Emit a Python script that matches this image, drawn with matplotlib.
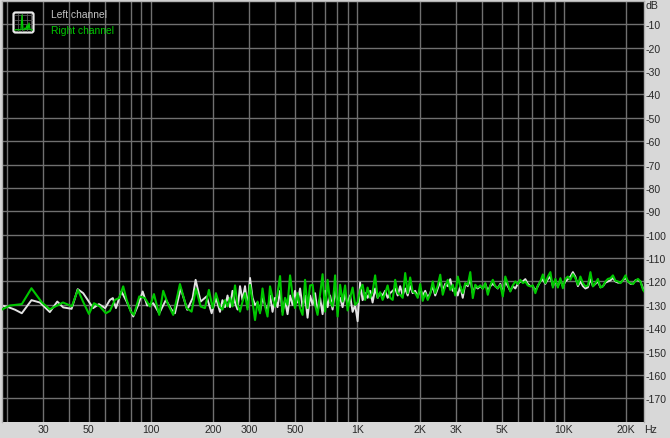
import matplotlib
matplotlib.use('Agg')
import matplotlib.pyplot as plt
from matplotlib.patches import FancyBboxPatch

plt.rcParams['font.family'] = ['Liberation Sans', 'DejaVu Sans']
plt.rcParams['axes.unicode_minus'] = False

left_low_freq = [18.9, 20, 22, 23.7, 26.4, 29, 32.4, 35.2, 37.6, 41.3, 44.2, 47, 52.5, 56, 60, 63.3,
                 65.4, 67.7, 72, 76.3, 82.1, 86.8, 91.2, 95.9, 102.6, 109.7, 118.2, 125.9, 130.7,
                 139.3, 149.9, 159.2, 164.6, 174.1, 186.1, 196.8, 206.4]
left_low_db = [-130.3, -130.7, -132.1, -133.6, -128, -129, -133.1, -128.6, -131.1, -131.7, -123.3, -125,
               -131.4, -129.7, -131.4, -127.9, -127.1, -131.4, -124.3, -128.6, -135, -130, -124.3,
               -130.3, -129.3, -133.6, -127.9, -132.1, -133.6, -122.9, -132.1, -127.1, -119.3, -128.6,
               -126.4, -133.6, -127.1]
right_low_freq = [18.9, 20.75, 23.7, 26.4, 29.6, 32.4, 35.1, 37.5, 41.4, 44.3, 46.9, 50.1, 53, 56.6, 60.5,
                  63.3, 66.9, 70.2, 73.4, 76.3, 79.8, 82.7, 87.8, 93.5, 98.9, 103.4, 109.7, 114.7, 121.3,
                  128.2, 138.2, 148.9, 157.4, 165.2, 174.1, 182.6, 190.9, 199, 206.4]
right_low_db = [-132.1, -130.3, -129.7, -122.9, -128.9, -131.9, -130.3, -129, -130.6, -123.6, -128.6,
                -133.9, -129.3, -130.7, -133.6, -132.6, -127.9, -127.1, -122.1, -127.9, -132.9, -134.3,
                -126.4, -127.1, -130.7, -125.4, -134.3, -124, -130, -134.3, -121.1, -131.4, -132.9,
                -123.1, -130.7, -131.4, -123.6, -131.4, -125]

# upper range shares one frequency list, ten per row
high_freq = [216, 222, 228.4, 234.9, 241.5, 248.3, 255.4, 262.6, 270, 277.7,
             285.5, 293.6, 301.9, 310.4, 319.2, 328.2, 337.5, 347, 356.9, 367,
             377.3, 388, 399, 410.3, 421.9, 433.8, 446.1, 458.7, 471.7, 485,
             498.7, 512.9, 527.4, 542.3, 557.6, 573.4, 589.6, 606.3, 623.5, 641.1,
             659.2, 677.9, 697.1, 716.8, 737.1, 757.9, 779.4, 801.4, 824.1, 847.4,
             871.4, 896, 921.4, 947.5, 974.3, 1002, 1030, 1059, 1089, 1120,
             1152, 1184, 1218, 1252, 1288, 1324, 1362, 1400, 1440, 1481,
             1523, 1566, 1610, 1656, 1703, 1751, 1800, 1851, 1904, 1958,
             2013, 2070, 2129, 2189, 2251, 2315, 2380, 2448, 2517, 2588,
             2661, 2737, 2814, 2894, 2976, 3060, 3146, 3235, 3327, 3421,
             3518, 3618, 3720, 3825, 3933, 4045, 4159, 4277, 4398, 4522,
             4650, 4782, 4917, 5056, 5199, 5346, 5498, 5653, 5813, 5978,
             6147, 6321, 6500, 6684, 6873, 7067, 7267, 7473, 7685, 7902,
             8126, 8356, 8592, 8835, 9085, 9342, 9607, 9879, 10158, 10446,
             10741, 11045, 11358, 11680, 12010, 12350, 12700, 13060, 13429, 13809,
             14200, 14602, 15015, 15440, 15877, 16327, 16789, 17264, 17753, 18255,
             18772, 19303, 19850, 20411, 20989, 21583, 22194, 22822, 23468, 24132,
             24815]

left_high_db = [-133, -128, -131, -126, -131, -124, -129, -132, -122, -128,
                -122, -131, -118.5, -127, -130, -129, -133, -127, -130, -133,
                -126, -133, -127, -131, -124, -133, -128, -134, -126, -130,
                -124, -129, -123, -131, -126, -135.5, -126, -130, -125, -133,
                -127, -134, -124, -131, -126, -132, -124, -129, -127, -131,
                -125, -130, -126, -133, -130, -137, -120.5, -128, -125, -127,
                -124, -129, -123, -127, -125, -126, -124, -127, -125, -124,
                -123, -126, -122, -126, -123, -126, -122, -125, -124, -126.5,
                -123, -126, -124, -127, -125, -122, -126, -123, -120, -124,
                -121, -122, -119, -124, -123, -126, -122, -127, -121, -122,
                -119, -125, -122, -123, -122, -123, -121, -124, -122, -121,
                -122, -123, -121, -125, -120, -122, -124, -122, -123, -121,
                -120, -120, -119, -121, -122, -122, -124, -122, -120, -119,
                -121, -119, -118, -122, -120, -122, -119.5, -122, -120, -119,
                -118, -116, -118, -122, -120, -122, -123, -122.5, -119, -122,
                -121, -120, -122.5, -122, -120.5, -120, -119.5, -118.5, -120, -120.5,
                -120.5, -119.5, -118.5, -120, -121, -121, -119.5, -119.5, -120, -123,
                -124.5]

right_high_db = [-131, -132, -128, -130.7, -127, -130.7, -121.7, -130, -132.9, -128.6,
                 -125, -132, -121.5, -128.6, -136.5, -128.6, -133.6, -123, -130.7, -135,
                 -122.1, -127, -130.7, -125, -117.7, -134.3, -127, -130, -117.4, -125.7,
                 -131.4, -125, -131.4, -134.3, -119.3, -131.4, -121.7, -121.4, -130, -134.3,
                 -125.7, -116.9, -132.9, -119.3, -128.6, -130.7, -117.4, -135, -121.4, -128.6,
                 -121.7, -132.4, -127, -122.6, -130, -128.9, -123.6, -121.4, -127.9, -122.6,
                 -127, -124.3, -117.4, -127, -124.6, -127.9, -125, -121.7, -127, -127.9,
                 -119.3, -125, -125.7, -127, -116.4, -125, -118.3, -124.3, -125, -127,
                 -121.1, -128.3, -125, -127.9, -125.4, -120, -125, -121.7, -117.1, -125.7,
                 -122.1, -119.3, -123.6, -121.4, -126, -117.9, -122.1, -125, -120.7, -121.4,
                 -116, -127.1, -121.4, -122.6, -121.7, -123.1, -120.7, -125.7, -121.7, -119.3,
                 -122.1, -122.9, -121.4, -126.4, -117.9, -121.1, -124.3, -121.7, -120, -121.1,
                 -119.3, -120.7, -120, -121.7, -122.1, -121.7, -125, -121.7, -120, -117,
                 -120.7, -117.9, -116, -122.6, -118.9, -122.6, -118.6, -122.9, -118.9, -117.9,
                 -119.3, -116.9, -118.6, -121.4, -117.9, -120.7, -122.1, -121.7, -116, -122.1,
                 -120.7, -118.9, -122.6, -122.1, -120, -118.9, -118.6, -117.4, -119.7, -120,
                 -120.7, -119.3, -117.4, -120, -120.7, -121.1, -119.7, -118.9, -120, -123.6,
                 -125]

grid_freqs = [20, 30, 40, 50, 60, 70, 80, 90, 100, 200, 300, 400, 500, 600, 700, 800, 900,
              1000, 2000, 3000, 4000, 5000, 6000, 7000, 8000, 9000, 10000, 20000]
x_tick_freqs = [30, 50, 100, 200, 300, 500, 1000, 2000, 3000, 5000, 10000, 20000]
x_tick_labels = ['30', '50', '100', '200', '300', '500', '1K', '2K', '3K', '5K', '10K', '20K']
y_ticks = [-10, -20, -30, -40, -50, -60, -70, -80, -90, -100, -110, -120, -130, -140, -150, -160, -170]

panel = '#D8D8D8'
grid_col = '#707070'
green = '#00C800'
white = '#E2E2E2'
text_col = '#282828'

fig = plt.figure(figsize=(6.7, 4.39), dpi=100, facecolor=panel)
ax = fig.add_axes([1.5 / 670, 16.3 / 439, 642 / 670, 420.7 / 439], facecolor='black')
ax.set_xscale('log')
ax.set_xlim(18.9, 24270)
ax.set_ylim(-180, 0)

# grid
for f in grid_freqs:
    ax.axvline(f, color=grid_col, lw=1.0, zorder=1)
for d in y_ticks:
    ax.axhline(d, color=grid_col, lw=1.0, zorder=1)

# channels, right goes on top
ax.plot(left_low_freq + high_freq, left_low_db + left_high_db, color=white, lw=1.4, zorder=2)
ax.plot(right_low_freq + high_freq, right_low_db + right_high_db, color=green, lw=1.5, zorder=3)

ax.minorticks_off()
ax.set_xticks(x_tick_freqs)
ax.set_xticklabels(x_tick_labels)
ax.xaxis.set_minor_locator(matplotlib.ticker.NullLocator())
ax.yaxis.tick_right()
ax.set_yticks(y_ticks)
ax.set_yticklabels([str(d) for d in y_ticks])
ax.tick_params(axis='x', length=0, pad=2, labelsize=7.6, labelcolor=text_col)
ax.tick_params(axis='y', length=0, pad=1.5, labelsize=7.6, labelcolor=text_col)
for side in ax.spines:
    ax.spines[side].set_color('#B0B0B0')
    ax.spines[side].set_linewidth(1.0)
ax.spines['bottom'].set_visible(False)

fig.text(646 / 670, 1 - 6 / 439, 'dB', fontsize=7.6, color=text_col, ha='left', va='center')
fig.text(644 / 670, 1 - 430 / 439, 'Hz', fontsize=7.6, color=text_col, ha='left', va='center')

# legend
ax.text(49.5 / 642, 1 - 12.5 / 420.7, 'Left channel', transform=ax.transAxes, fontsize=7.4,
        color='#C4C4C4', va='center', zorder=5)
ax.text(49.5 / 642, 1 - 28.5 / 420.7, 'Right channel', transform=ax.transAxes, fontsize=7.4,
        color=green, va='center', zorder=5)

# little spectrum icon
icon = fig.add_axes([12 / 670, 1 - 35 / 439, 23 / 670, 23 / 439], facecolor='none')
icon.set_xlim(0, 23)
icon.set_ylim(0, 23)
icon.axis('off')
icon.add_patch(FancyBboxPatch((1.5, 1.5), 20, 20, boxstyle='round,pad=0,rounding_size=2',
                              fc='black', ec='#E8E8E8', lw=1.6))
for g in [5.5, 10, 14.5, 19]:
    icon.plot([g, g], [3, 20], color='#5A5A5A', lw=0.6)
    icon.plot([3, 20], [g, g], color='#5A5A5A', lw=0.6)
icon.plot([3, 5, 6, 7, 8, 9, 10, 11, 12, 13, 14, 15, 16, 17, 18, 20],
          [4, 4.5, 4, 4.5, 4, 4.5, 19, 4.5, 4, 6, 4.5, 9, 4.5, 11, 4.5, 4], color=green, lw=0.9)

fig.savefig('out.png', dpi=100, facecolor=panel)
